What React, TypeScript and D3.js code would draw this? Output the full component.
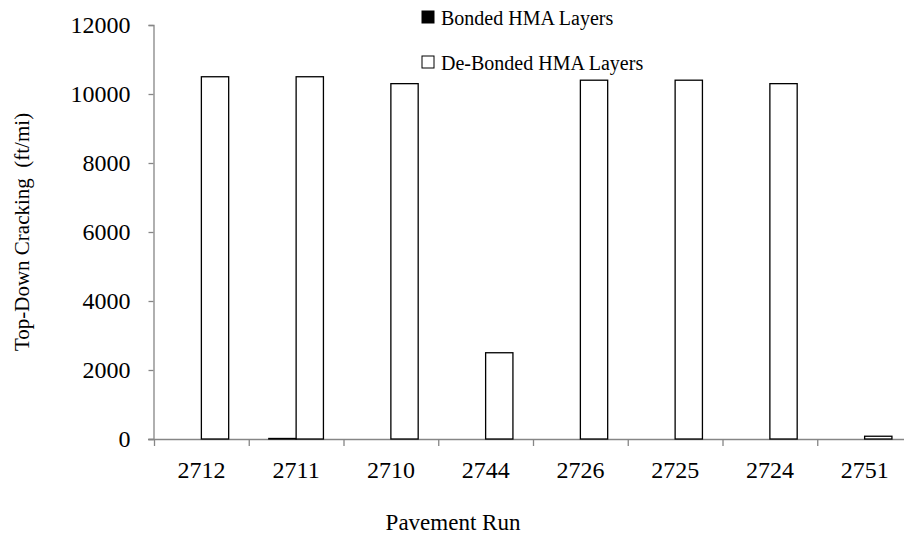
import React, { useRef, useEffect } from 'react';
import * as d3 from 'd3';

const runs = ['2712', '2711', '2710', '2744', '2726', '2725', '2724', '2751'];
const bonded = [0, 15, 0, 0, 0, 0, 0, 0];
const deBonded = [10500, 10500, 10300, 2500, 10400, 10400, 10300, 80];
const yTicks = [0, 2000, 4000, 6000, 8000, 10000, 12000];
const seriesNames = ['Bonded HMA Layers', 'De-Bonded HMA Layers'];
const seriesFill = ['#000000', '#ffffff'];

const W = 904;
const H = 537;
const FONT = 'Liberation Serif, Times New Roman, serif';
const AXIS = '#868686';

const App: React.FC = () => {
  const svgRef = useRef<SVGSVGElement | null>(null);

  useEffect(() => {
    const svg = d3.select(svgRef.current);
    svg.selectAll('*').remove();

    // scales
    const x = d3.scaleBand().domain(runs).range([154, 912]).padding(0);
    const inner = d3.scaleBand()
      .domain(seriesNames)
      .range([0, x.bandwidth()])
      .paddingInner(0)
      .paddingOuter(0.735);
    const y = d3.scaleLinear().domain([0, 12000]).range([439, 25]);

    // y axis
    const yAxis = svg.append('g')
      .attr('transform', 'translate(153.5,0)')
      .call(d3.axisLeft(y).tickValues(yTicks).tickSize(5).tickPadding(18).tickFormat(d3.format('d')));
    yAxis.select('.domain').attr('stroke', AXIS).attr('stroke-width', 1.3);
    yAxis.selectAll('.tick line').attr('stroke', AXIS).attr('stroke-width', 1.3);
    yAxis.selectAll('.tick text')
      .attr('font-family', FONT).attr('font-size', 24).attr('fill', '#000');

    // x axis line + ticks at band boundaries
    svg.append('line')
      .attr('x1', 148).attr('x2', W)
      .attr('y1', y(0) + 0.5).attr('y2', y(0) + 0.5)
      .attr('stroke', AXIS).attr('stroke-width', 1.3);
    svg.selectAll('.xtick')
      .data(runs)
      .enter()
      .append('line')
      .attr('class', 'xtick')
      .attr('x1', d => (x(d) as number) + 0.5)
      .attr('x2', d => (x(d) as number) + 0.5)
      .attr('y1', y(0))
      .attr('y2', y(0) + 7)
      .attr('stroke', AXIS).attr('stroke-width', 1.3);
    svg.selectAll('.xlabel')
      .data(runs)
      .enter()
      .append('text')
      .attr('class', 'xlabel')
      .attr('x', d => (x(d) as number) + x.bandwidth() / 2)
      .attr('y', 478)
      .attr('text-anchor', 'middle')
      .attr('font-family', FONT).attr('font-size', 24)
      .text(d => d);

    // bars
    const series = [bonded, deBonded];
    series.forEach((vals, si) => {
      svg.selectAll(`.bar${si}`)
        .data(vals)
        .enter()
        .append('rect')
        .attr('class', `bar${si}`)
        .attr('x', (_, i) => (x(runs[i]) as number) + (inner(seriesNames[si]) as number))
        .attr('y', v => y(v))
        .attr('width', inner.bandwidth())
        .attr('height', v => y(0) - y(v))
        .attr('fill', seriesFill[si])
        .attr('stroke', '#000')
        .attr('stroke-width', 1.3);
    });

    // axis titles
    svg.append('text')
      .attr('transform', 'translate(29,232) rotate(-90)')
      .attr('text-anchor', 'middle')
      .attr('font-family', FONT).attr('font-size', 21)
      .attr('xml:space', 'preserve')
      .text('Top-Down Cracking  (ft/mi)');
    svg.append('text')
      .attr('x', 453).attr('y', 530)
      .attr('text-anchor', 'middle')
      .attr('font-family', FONT).attr('font-size', 23)
      .text('Pavement Run');

    // legend
    const legend = svg.append('g');
    seriesNames.forEach((name, i) => {
      const ly = 17 + i * 45;
      legend.append('rect')
        .attr('x', 422).attr('y', ly - 6)
        .attr('width', 12).attr('height', 12)
        .attr('fill', seriesFill[i])
        .attr('stroke', '#000').attr('stroke-width', 1);
      legend.append('text')
        .attr('x', 441).attr('y', ly + 8)
        .attr('font-family', FONT).attr('font-size', 20)
        .text(name);
    });
  }, []);

  return (
    <div>
      <svg
        ref={svgRef}
        width={W}
        height={H}
        style={{ position: 'absolute', left: 0, top: 0, background: '#fff' }}
      ></svg>
    </div>
  );
};

export default App;
